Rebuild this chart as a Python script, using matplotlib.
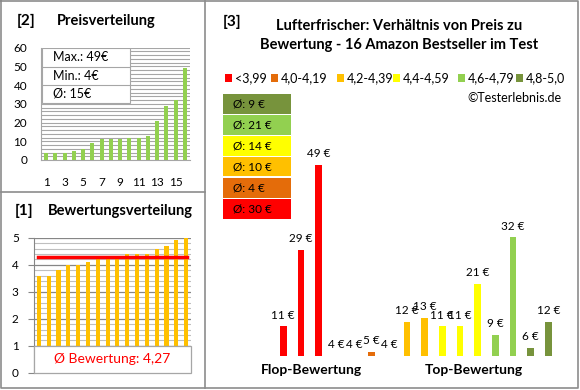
import matplotlib.pyplot as plt
from matplotlib.lines import Line2D
from matplotlib.patches import Rectangle
from matplotlib.transforms import blended_transform_factory

W, H = 580, 390

# [2] price distribution (sorted)
price_sorted = [4, 4, 4, 5, 6, 9, 11, 11, 11, 12, 12, 13, 21, 29, 32, 49]
price_xticks = [1, 3, 5, 7, 9, 11, 13, 15]
price_stats = ["Max.: 49€", "Min.: 4€", "Ø: 15€"]

# [1] rating distribution (sorted)
rating_sorted = [3.6, 3.6, 3.8, 4.0, 4.0, 4.1, 4.2, 4.2, 4.2, 4.4, 4.4, 4.4, 4.6, 4.7, 4.9, 5.0]
rating_avg = 4.27
rating_avg_label = "Ø Bewertung: 4,27"

# [3] price per product, ordered by rating
price_by_rating = [11, 29, 49, 4, 4, 5, 4, 12, 13, 11, 11, 21, 9, 32, 6, 12]
class_labels = ["<3,99", "4,0-4,19", "4,2-4,39", "4,4-4,59", "4,6-4,79", "4,8-5,0"]
class_colors = ["#FF0000", "#E46C0A", "#FFC000", "#FFFF00", "#92D050", "#77933C"]
class_sizes = [3, 3, 3, 3, 2, 2]
class_avgs = [30, 4, 10, 14, 21, 9]
group_labels = ["Flop-Bewertung", "Top-Bewertung"]
title3 = "Lufterfrischer: Verhältnis von Preis zu\nBewertung - 16 Amazon Bestseller im Test"

plt.rcParams["font.family"] = ["Lato", "DejaVu Sans"]

fig = plt.figure(figsize=(W / 100, H / 100), dpi=100)


def rect(x0, y0, x1, y1):
    return [x0 / W, 1 - y1 / H, (x1 - x0) / W, (y1 - y0) / H]


def fx(x):
    return x / W


def fy(y):
    return 1 - y / H


# panel frames
frame = "#8C8C8C"
for xs, ys in [([1, 578, 578, 1, 1], [1, 1, 388, 388, 1]), ([205, 205], [1, 388]), ([1, 205], [192, 192])]:
    fig.add_artist(Line2D([fx(v) for v in xs], [fy(v) for v in ys], color=frame, lw=1.2))

# ---------- [2] Preisverteilung ----------
fig.text(fx(17), fy(21), "[2]", fontsize=11, fontweight="bold", va="center")
fig.text(fx(57), fy(21), "Preisverteilung", fontsize=10.5, fontweight="bold", va="center")

ax1 = fig.add_axes(rect(41, 47.7, 190, 160))
x1 = list(range(1, len(price_sorted) + 1))
ax1.bar(x1, price_sorted, width=0.43, color="#92D050", zorder=3)
ax1.set_xlim(0.46, 16.54)
ax1.set_ylim(0, 60)
ax1.set_yticks(range(0, 61, 10))
ax1.set_yticks(range(0, 61, 2), minor=True)
ax1.set_xticks(price_xticks)
ax1.grid(axis="y", which="both", color="#A6A6A6", lw=0.8, zorder=0)
ax1.tick_params(axis="both", which="both", length=0, labelsize=8.5)
ax1.tick_params(axis="y", pad=10)
ax1.tick_params(axis="x", pad=12)
for s in ["top", "right"]:
    ax1.spines[s].set_visible(False)
for s in ["left", "bottom"]:
    ax1.spines[s].set_color("#A6A6A6")
ax1.add_patch(Rectangle((0.007, 0.508), 0.593, 0.492, transform=ax1.transAxes,
                        facecolor="white", edgecolor="#A6A6A6", lw=0.8, zorder=5))
for yl in [0.829, 0.668]:
    ax1.plot([0.007, 0.6], [yl, yl], transform=ax1.transAxes, color="#A6A6A6", lw=0.8, zorder=6)
for txt, yc in zip(price_stats, [0.913, 0.748, 0.588]):
    ax1.text(0.08, yc, txt, transform=ax1.transAxes, fontsize=9, va="center", zorder=7)

# ---------- [1] Bewertungsverteilung ----------
fig.text(fx(15), fy(211), "[1]", fontsize=11, fontweight="bold", va="center")
fig.text(fx(48), fy(211), "Bewertungsverteilung", fontsize=10.5, fontweight="bold", va="center")

ax2 = fig.add_axes(rect(34, 237.7, 191, 372.7))
x2 = list(range(1, len(rating_sorted) + 1))
ax2.bar(x2, rating_sorted, width=0.42, color="#FFC000", zorder=3)
ax2.set_xlim(0.5, 16.5)
ax2.set_ylim(0, 5)
ax2.set_yticks(range(0, 6))
ax2.set_yticks([v / 5 for v in range(0, 26)], minor=True)
ax2.set_xticks([])
ax2.grid(axis="y", which="minor", color="#BFBFBF", lw=0.8, zorder=0)
ax2.grid(axis="y", which="major", color="#868686", lw=0.9, zorder=0)
ax2.tick_params(axis="y", which="major", length=4, color="#868686", labelsize=8.5, pad=7)
ax2.tick_params(axis="y", which="minor", length=0)
for s in ["top", "right", "bottom"]:
    ax2.spines[s].set_visible(False)
ax2.spines["left"].set_color("#868686")
ax2.axhline(rating_avg, xmin=0.025, xmax=0.975, color="#FF0000", lw=2.5, zorder=4)
btr = blended_transform_factory(ax2.transAxes, ax2.transData)
ax2.add_patch(Rectangle((0, 0), 1, 1, transform=btr, facecolor="white",
                        edgecolor="#A6A6A6", lw=0.9, zorder=5, clip_on=False))
ax2.text(0.5, 0.5, rating_avg_label, transform=btr, color="#FF0000", fontsize=10,
         ha="center", va="center", zorder=6)

# ---------- [3] Preis vs Bewertung ----------
fig.text(fx(223), fy(22), "[3]", fontsize=11, fontweight="bold", va="center")
fig.text(fx(399), fy(35.5), title3, fontsize=10.5, fontweight="bold", ha="center", va="center",
         linespacing=1.42)

# legend row
sq_x = [225, 271, 337, 393, 458, 516]
for lab, col, sx in zip(class_labels, class_colors, sq_x):
    fig.add_artist(Rectangle((fx(sx), fy(81.5)), 7 / W, 7 / H, transform=fig.transFigure,
                             facecolor=col, edgecolor="none"))
    fig.text(fx(sx + 10), fy(78), lab, fontsize=9, va="center")
fig.text(fx(562), fy(98), "©Testerlebnis.de", fontsize=9, ha="right", va="center")

# average boxes (top: best class)
for k, (col, avg) in enumerate(zip(class_colors[::-1], class_avgs[::-1])):
    top = 94 + 21 * k
    fig.add_artist(Rectangle((fx(223), fy(top + 19.5)), 68 / W, 19.5 / H,
                             transform=fig.transFigure, facecolor=col, edgecolor="none"))
    fig.text(fx(233), fy(top + 10), f"Ø: {avg} €", fontsize=8.5, va="center")

ax3 = fig.add_axes(rect(270, 140, 561.6, 356))
bar_colors = [c for c, n in zip(class_colors, class_sizes) for _ in range(n)]
x3 = list(range(len(price_by_rating)))
ax3.bar(x3, price_by_rating, width=0.38, color=bar_colors)
ax3.set_xlim(-0.75, 15.75)
ax3.set_ylim(4, 54.9)
for xi, v in zip(x3, price_by_rating):
    ax3.annotate(f"{v} €", (xi, max(v, 4)), xytext=(0, 4), textcoords="offset points",
                 ha="center", va="bottom", fontsize=8.5, annotation_clip=False)
ax3.axis("off")
for lab, xc in zip(group_labels, [1.62, 10.8]):
    ax3.text(xc, -0.065, lab, transform=blended_transform_factory(ax3.transData, ax3.transAxes),
             fontsize=10, fontweight="bold", ha="center", va="center")

fig.savefig("out.png", dpi=100)
